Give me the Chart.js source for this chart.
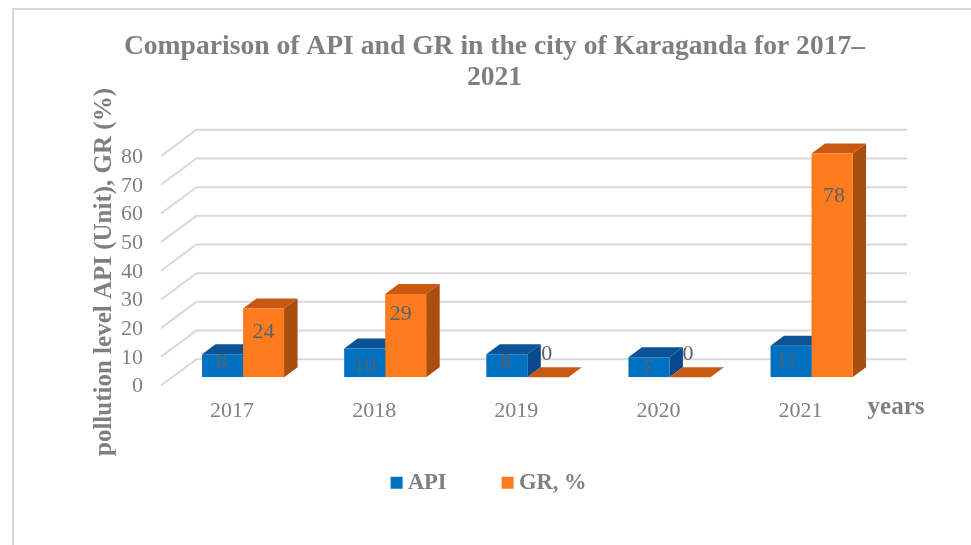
<!DOCTYPE html>
<html>
<head>
<meta charset="utf-8">
<style>html,body{margin:0;padding:0;background:#fff}canvas{display:block}</style>
<script src="https://cdn.jsdelivr.net/npm/chart.js@4"></script>
</head>
<body>
<canvas id="c" width="971" height="545"></canvas>
<script>
const categories = ['2017', '2018', '2019', '2020', '2021'];
const apiValues = [8, 10, 8, 7, 11];
const grValues = [24, 29, 0, 0, 78];
const titleLines = ['Comparison of API and GR in the city of Karaganda for 2017–', '2021'];
const yAxisTitle = 'pollution level API (Unit), GR (%)';
const xAxisTitle = 'years';

const SERIF = '"Liberation Serif","Times New Roman",serif';
const GREY = '#7f7f7f';
const DX = 13.5, DY = 10;                 // depth of a bar
const LEGEND_RAISE = 21.7;
const apiNudge = [[-1, 8], [0, 18], [-1, 8], [-1, 11], [-4, 15]];
const grNudge = [[0, 24], [-5, 20], [-1, -23], [-2, -23], [2, 43]];
const faces = [
  {top: '#0b5394', side: '#07498a', nudge: apiNudge},
  {top: '#c95812', side: '#a84e0e', nudge: grNudge}
];

const depthPlugin = {
  id: 'depth',
  afterLayout(chart) {
    chart.legend.left -= 3;
    chart.legend.right -= 3;
    chart.legend.top -= LEGEND_RAISE;
    chart.legend.bottom -= LEGEND_RAISE;
  },
  beforeDraw(chart) {
    const c = chart.ctx;
    c.save();
    c.fillStyle = '#fff';
    c.fillRect(0, 0, chart.width, chart.height);
    c.strokeStyle = '#d9d9d9';
    c.lineWidth = 2;
    c.beginPath();
    c.moveTo(13, chart.height);
    c.lineTo(13, 9);
    c.lineTo(chart.width, 9);
    c.stroke();
    c.restore();
  },
  beforeDatasetsDraw(chart) {
    const c = chart.ctx, ys = chart.scales.y, a = chart.chartArea;
    c.save();
    c.strokeStyle = '#d9d9d9';
    c.lineWidth = 2;
    ys.ticks.forEach(t => {
      const y = ys.getPixelForValue(t.value);
      c.beginPath();
      c.moveTo(a.left - 11, y + 8.3);
      c.lineTo(a.left + 24.4, y - 18);
      c.lineTo(a.right + 24.4, y - 18);
      c.stroke();
    });
    chart.data.datasets.forEach((ds, i) => {
      chart.getDatasetMeta(i).data.forEach(bar => {
        const l = bar.x - bar.width / 2, r = bar.x + bar.width / 2, t = bar.y, b = bar.base;
        c.fillStyle = faces[i].side;
        c.beginPath();
        c.moveTo(r, t); c.lineTo(r + DX, t - DY); c.lineTo(r + DX, b - DY); c.lineTo(r, b);
        c.closePath(); c.fill();
        c.fillStyle = faces[i].top;
        c.beginPath();
        c.moveTo(l, t); c.lineTo(l + DX, t - DY); c.lineTo(r + DX, t - DY); c.lineTo(r, t);
        c.closePath(); c.fill();
      });
    });
    c.restore();
  },
  afterDraw(chart) {
    const c = chart.ctx;
    c.save();
    c.fillStyle = '#59606a';
    c.font = '22px ' + SERIF;
    c.textAlign = 'center';
    c.textBaseline = 'middle';
    chart.data.datasets.forEach((ds, i) => {
      chart.getDatasetMeta(i).data.forEach((bar, j) => {
        const n = faces[i].nudge[j];
        c.fillText(String(ds.data[j]), bar.x + n[0], bar.y + n[1]);
      });
    });
    c.fillStyle = GREY;
    c.font = 'bold 25px ' + SERIF;
    c.fillText(xAxisTitle, 896, 408);
    c.translate(105, 272);
    c.rotate(-Math.PI / 2);
    c.fillText(yAxisTitle, 0, 0);
    c.restore();
  }
};

new Chart(document.getElementById('c'), {
  type: 'bar',
  data: {
    labels: categories,
    datasets: [
      {label: 'API', data: apiValues, backgroundColor: '#0070c0', categoryPercentage: 0.577, barPercentage: 1},
      {label: 'GR, %', data: grValues, backgroundColor: '#ff7c1e', categoryPercentage: 0.577, barPercentage: 1}
    ]
  },
  plugins: [depthPlugin],
  options: {
    responsive: false,
    animation: false,
    devicePixelRatio: 1,
    layout: {padding: {left: 106.4, right: 88.4, top: 0, bottom: 41 - LEGEND_RAISE}},
    plugins: {
      tooltip: {enabled: false},
      title: {
        display: true,
        text: titleLines,
        color: GREY,
        font: {family: SERIF, size: 27.6, weight: 'bold', lineHeight: 31 / 27.6},
        padding: {top: 31.5, bottom: 54.3}
      },
      legend: {
        position: 'bottom',
        labels: {
          usePointStyle: true,
          pointStyle: 'rect',
          boxWidth: 0.01,
          boxHeight: 12,
          padding: 61,
          color: GREY,
          font: {family: SERIF, size: 22.5, weight: 'bold'}
        }
      }
    },
    scales: {
      x: {
        grid: {display: false},
        border: {display: false},
        afterFit(s) { s.height = 33.3 + LEGEND_RAISE; },
        ticks: {
          color: GREY,
          font: {family: SERIF, size: 22},
          padding: 13,
          labelOffset: -11,
          maxRotation: 0,
          autoSkipPadding: 0
        }
      },
      y: {
        min: 0,
        max: 80,
        grid: {display: false},
        border: {display: false},
        afterFit(s) { s.width = 65.6; },
        ticks: {
          stepSize: 10,
          color: GREY,
          font: {family: SERIF, size: 22},
          padding: 21,
          labelOffset: 9.5,
          autoSkip: false
        }
      }
    }
  }
});
</script>
</body>
</html>
